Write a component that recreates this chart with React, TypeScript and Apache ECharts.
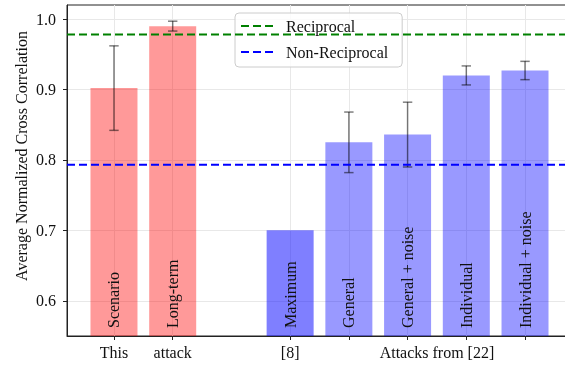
import React, { useEffect, useRef } from "react";
import * as echarts from "echarts";

const barPositions = [0, 1, 3, 4, 5, 6, 7];
const barNames = ["Scenario", "Long-term", "Maximum", "General", "General + noise", "Individual", "Individual + noise"];
const barValues = [0.902, 0.990, 0.700, 0.825, 0.836, 0.920, 0.927];
const barErrors = [0.060, 0.007, null, 0.043, 0.046, 0.0135, 0.013];
const barColors = [
  "rgba(255,0,0,0.4)",
  "rgba(255,0,0,0.4)",
  "rgba(0,0,255,0.5)",
  "rgba(0,0,255,0.4)",
  "rgba(0,0,255,0.4)",
  "rgba(0,0,255,0.4)",
  "rgba(0,0,255,0.4)",
];
const groupLabelPositions = [0, 1, 3, 5.5];
const groupLabelTexts = ["This", "attack", "[8]", "Attacks from [22]"];
const yTicks = [0.6, 0.7, 0.8, 0.9, 1.0];
const xMin = -0.8;
const xMax = 7.8;
const reciprocal = 0.978;
const nonReciprocal = 0.793;

const FONT = '"Liberation Serif", "DejaVu Serif", "Times New Roman", serif';
const TXT = "#111";

export default function App() {
  const ref = useRef<HTMLDivElement>(null);
  useEffect(() => {
    if (!ref.current) return;
    const chart = echarts.init(ref.current, undefined, { renderer: "svg" });
    const barData = barPositions.map((x, i) => ({
      value: [x, barValues[i]],
      itemStyle: { color: barColors[i] },
      label: { formatter: barNames[i] },
    }));
    const errData = barPositions
      .map((x, i) => (barErrors[i] == null ? null : [x, barValues[i] - (barErrors[i] as number), barValues[i] + (barErrors[i] as number)]))
      .filter((d) => d !== null);
    const labelMap: Record<string, string> = {};
    groupLabelPositions.forEach((p, i) => (labelMap[String(p)] = groupLabelTexts[i]));

    chart.setOption({
      animation: false,
      grid: {
        left: 67,
        top: 5,
        right: -7,
        bottom: 32,
        show: true,
        borderColor: "#222",
        borderWidth: 1,
        backgroundColor: "transparent",
        outerBoundsMode: "none",
        containLabel: false,
      },
      legend: {
        data: ["Reciprocal", "Non-Reciprocal"],
        orient: "vertical",
        left: 235,
        top: 13,
        padding: [5, 14, 7, 5],
        itemWidth: 34,
        itemHeight: 14,
        itemGap: 10,
        backgroundColor: "rgba(255,255,255,0.8)",
        borderColor: "#cccccc",
        borderWidth: 1,
        borderRadius: 4,
        itemStyle: { color: "rgba(0,0,0,0)", opacity: 0, borderWidth: 0 },
        textStyle: { fontSize: 16, fontFamily: FONT, color: TXT, padding: [0, 0, 0, 6] },
      },
      xAxis: {
        type: "value",
        min: xMin,
        max: xMax,
        axisLine: { show: true, onZero: false, lineStyle: { color: "#222", width: 1 } },
        axisTick: { show: true, length: 4, customValues: barPositions, lineStyle: { color: "#222" } },
        axisLabel: {
          customValues: groupLabelPositions,
          formatter: (v: number) => labelMap[String(v)] ?? "",
          fontSize: 16,
          fontFamily: FONT,
          color: TXT,
          margin: 8,
        },
        splitLine: { show: true, lineStyle: { color: "#e8e8e8", width: 1 } },
      },
      yAxis: {
        type: "value",
        min: 0.55,
        max: 1.02,
        axisLine: { show: true, onZero: false, lineStyle: { color: "#222", width: 1 } },
        axisTick: { show: true, length: 4, customValues: yTicks, lineStyle: { color: "#222" } },
        axisLabel: {
          customValues: yTicks,
          formatter: (v: number) => v.toFixed(1),
          fontSize: 16,
          fontFamily: FONT,
          color: TXT,
          margin: 11,
        },
        splitLine: { show: true, lineStyle: { color: "#e8e8e8", width: 1 } },
      },
      graphic: [
        {
          type: "text",
          x: 21,
          y: 156,
          rotation: Math.PI / 2,
          style: {
            text: "Average Normalized Cross Correlation",
            font: `16px ${FONT}`,
            fill: TXT,
            textAlign: "center",
            textVerticalAlign: "middle",
          },
        },
      ],
      series: [
        {
          type: "bar",
          data: barData,
          barWidth: 47,
          z: 2,
          label: {
            show: true,
            position: "insideBottom",
            rotate: 90,
            align: "left",
            verticalAlign: "middle",
            distance: 8,
            fontSize: 16,
            fontFamily: FONT,
            color: TXT,
          },
        },
        {
          type: "custom",
          data: errData,
          encode: { x: 0, y: [1, 2] },
          z: 3,
          renderItem: (params: any, api: any) => {
            const x = api.value(0);
            const lo = api.coord([x, api.value(1)]);
            const hi = api.coord([x, api.value(2)]);
            const cap = 4.7;
            const style = { stroke: "rgba(0,0,0,0.5)", lineWidth: 1.5 };
            return {
              type: "group",
              children: [
                { type: "line", shape: { x1: lo[0], y1: lo[1], x2: hi[0], y2: hi[1] }, style },
                { type: "line", shape: { x1: lo[0] - cap, y1: lo[1], x2: lo[0] + cap, y2: lo[1] }, style },
                { type: "line", shape: { x1: hi[0] - cap, y1: hi[1], x2: hi[0] + cap, y2: hi[1] }, style },
              ],
            };
          },
        },
        {
          type: "line",
          name: "Reciprocal",
          data: [[xMin, reciprocal], [xMax, reciprocal]],
          symbol: "none",
          z: 5,
          lineStyle: { color: "#008000", width: 2, type: [8, 4] },
          itemStyle: { color: "#008000" },
        },
        {
          type: "line",
          name: "Non-Reciprocal",
          data: [[xMin, nonReciprocal], [xMax, nonReciprocal]],
          symbol: "none",
          z: 5,
          lineStyle: { color: "#0000ff", width: 2, type: [8, 4] },
          itemStyle: { color: "#0000ff" },
        },
      ],
    });
    return () => chart.dispose();
  }, []);
  return <div ref={ref} style={{ position: "fixed", left: 0, top: 0, width: 565, height: 368 }} />;
}
